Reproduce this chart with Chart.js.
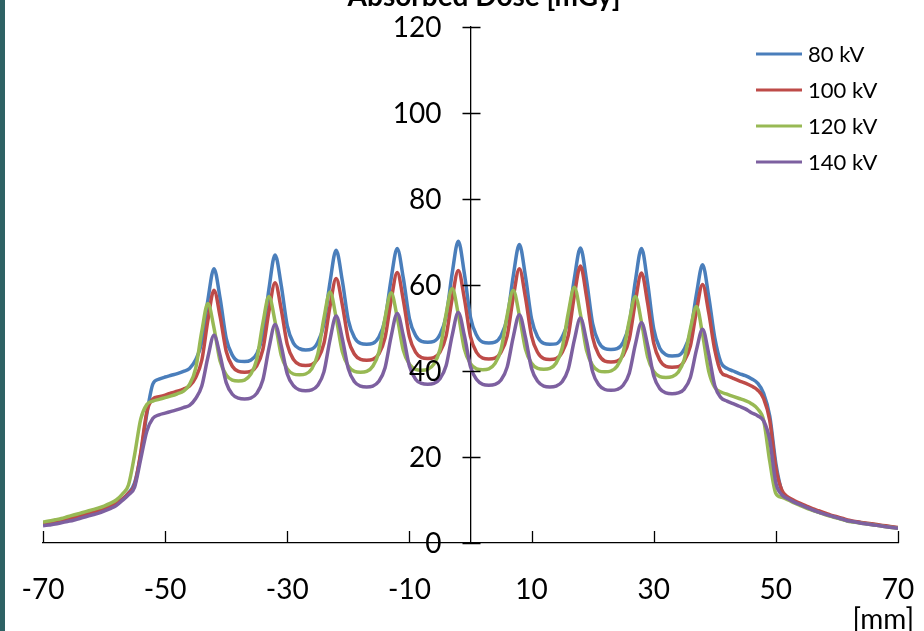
<!DOCTYPE html>
<html>
<head>
<meta charset="utf-8">
<script src="https://cdn.jsdelivr.net/npm/chart.js@4.4.1/dist/chart.umd.min.js"></script>
<style>
  html, body { margin: 0; padding: 0; background: #fff; }
  #wrap { position: relative; width: 924px; height: 631px; overflow: hidden; background: #fff; }
  #edge { position: absolute; left: 0; top: 0; width: 5px; height: 631px; background: #2e6264; }
  canvas { position: absolute; left: 0; top: 0; }
</style>
</head>
<body>
<div id="wrap">
  <canvas id="dose" width="924" height="631"></canvas>
  <div id="edge"></div>
</div>
<script>
// position across the phantom [mm]
const positionsMm = [
  -70, -69, -68, -67, -66, -65, -64, -63, -62, -61,
  -60, -59, -58, -57, -56, -55, -54, -53, -52, -51,
  -50, -49, -48, -47, -46, -45, -44, -43, -42, -41,
  -40, -39, -38, -37, -36, -35, -34, -33, -32, -31,
  -30, -29, -28, -27, -26, -25, -24, -23, -22, -21,
  -20, -19, -18, -17, -16, -15, -14, -13, -12, -11,
  -10, -9, -8, -7, -6, -5, -4, -3, -2, -1,
  0, 1, 2, 3, 4, 5, 6, 7, 8, 9,
  10, 11, 12, 13, 14, 15, 16, 17, 18, 19,
  20, 21, 22, 23, 24, 25, 26, 27, 28, 29,
  30, 31, 32, 33, 34, 35, 36, 37, 38, 39,
  40, 41, 42, 43, 44, 45, 46, 47, 48, 49,
  50, 51, 52, 53, 54, 55, 56, 57, 58, 59,
  60, 61, 62, 63, 64, 65, 66, 67, 68, 69,
  70
];

// absorbed dose [mGy]
const dose80kV = [
  4.5, 4.7, 5.0, 5.3, 5.6, 5.9, 6.2, 6.6, 7.0, 7.4,
  7.9, 8.5, 9.2, 10.2, 11.6, 14.0, 20.5, 30.0, 37.0, 38.1,
  38.6, 39.0, 39.4, 39.9, 40.6, 42.6, 46.7, 56.5, 63.8, 56.9,
  47.6, 43.7, 42.3, 42.2, 42.5, 44.0, 48.5, 59.1, 67.0, 60.0,
  50.5, 46.5, 45.2, 44.9, 45.1, 46.7, 50.9, 60.7, 68.1, 61.1,
  51.8, 47.8, 46.4, 46.2, 46.4, 47.9, 51.9, 61.4, 68.5, 61.6,
  52.2, 48.3, 46.9, 46.7, 46.9, 48.5, 52.7, 62.7, 70.2, 62.6,
  52.5, 48.3, 46.7, 46.5, 46.7, 48.2, 52.3, 62.1, 69.4, 62.0,
  52.1, 47.9, 46.4, 46.2, 46.3, 47.9, 51.9, 61.5, 68.6, 61.1,
  51.0, 46.7, 45.2, 45.0, 45.2, 46.7, 51.0, 61.0, 68.5, 60.5,
  49.8, 45.3, 43.8, 43.5, 43.6, 45.1, 48.9, 57.9, 64.7, 57.4,
  47.7, 42.0, 40.6, 40.0, 39.4, 38.9, 38.2, 37.2, 34.8, 29.5,
  18.5, 12.0, 10.4, 9.6, 8.9, 8.3, 7.7, 7.2, 6.8, 6.3,
  5.9, 5.5, 5.1, 4.9, 4.7, 4.5, 4.3, 4.1, 3.9, 3.7,
  3.5
];
const dose100kV = [
  4.5, 4.7, 5.0, 5.3, 5.6, 5.9, 6.2, 6.6, 7.0, 7.4,
  7.9, 8.5, 9.2, 10.2, 11.6, 13.5, 21.0, 30.5, 33.5, 34.0,
  34.4, 34.9, 35.3, 35.8, 36.5, 38.5, 42.5, 51.8, 58.8, 52.7,
  44.6, 41.1, 39.9, 39.7, 39.9, 41.2, 45.0, 53.9, 60.5, 54.4,
  46.2, 42.7, 41.5, 41.3, 41.5, 42.8, 46.4, 55.1, 61.5, 55.5,
  47.3, 43.9, 42.7, 42.5, 42.7, 44.0, 47.7, 56.4, 62.9, 56.5,
  48.0, 44.4, 43.1, 42.9, 43.1, 44.4, 48.1, 56.9, 63.4, 56.8,
  48.0, 44.3, 43.0, 42.8, 43.0, 44.4, 48.1, 57.1, 63.8, 57.1,
  48.1, 44.3, 42.9, 42.7, 42.9, 44.3, 48.2, 57.5, 64.4, 57.3,
  47.8, 43.8, 42.3, 42.1, 42.3, 43.6, 47.4, 56.2, 62.8, 55.8,
  46.5, 42.5, 41.1, 40.9, 41.0, 42.3, 45.8, 54.0, 60.1, 53.6,
  44.9, 39.8, 38.9, 38.3, 37.7, 37.2, 36.5, 35.6, 33.6, 28.5,
  17.5, 12.2, 10.7, 9.9, 9.2, 8.6, 8.0, 7.5, 7.0, 6.5,
  6.1, 5.7, 5.3, 5.0, 4.8, 4.6, 4.4, 4.2, 4.0, 3.8,
  3.6
];
const dose120kV = [
  4.9, 5.1, 5.4, 5.7, 6.1, 6.5, 6.9, 7.3, 7.7, 8.1,
  8.6, 9.2, 10.0, 11.4, 13.5, 20.5, 28.8, 32.2, 33.0, 33.4,
  33.8, 34.2, 34.7, 35.3, 36.9, 40.6, 49.2, 55.7, 50.0, 42.3,
  39.1, 37.9, 37.7, 37.9, 39.2, 42.7, 51.1, 57.3, 51.5, 43.7,
  40.5, 39.3, 39.1, 39.3, 40.5, 44.0, 52.3, 58.4, 52.4, 44.5,
  41.1, 39.9, 39.7, 39.9, 41.1, 44.4, 52.3, 58.2, 52.5, 44.8,
  41.6, 40.4, 40.2, 40.4, 41.6, 45.0, 53.2, 59.2, 53.2, 45.1,
  41.7, 40.5, 40.3, 40.5, 41.7, 45.0, 52.9, 58.8, 52.9, 45.1,
  41.8, 40.6, 40.4, 40.6, 41.8, 45.3, 53.4, 59.5, 53.2, 44.8,
  41.3, 40.0, 39.8, 40.0, 41.1, 44.3, 51.7, 57.3, 51.3, 43.3,
  39.9, 38.7, 38.5, 38.7, 39.7, 42.7, 49.8, 55.0, 48.5, 40.0,
  36.2, 35.1, 34.6, 34.1, 33.6, 33.1, 32.4, 31.2, 28.5, 19.0,
  11.5, 10.6, 10.0, 9.3, 8.7, 8.1, 7.6, 7.1, 6.6, 6.2,
  5.8, 5.4, 5.0, 4.8, 4.6, 4.4, 4.2, 4.0, 3.8, 3.6,
  3.4
];
const dose140kV = [
  4.0, 4.2, 4.4, 4.7, 5.0, 5.3, 5.7, 6.1, 6.5, 6.9,
  7.4, 8.0, 8.7, 9.9, 11.2, 13.0, 19.5, 26.0, 29.0, 29.8,
  30.2, 30.6, 31.0, 31.5, 32.0, 33.6, 36.5, 43.2, 48.3, 43.6,
  37.3, 34.6, 33.7, 33.5, 33.7, 34.8, 37.9, 45.3, 50.8, 45.9,
  39.3, 36.6, 35.6, 35.4, 35.6, 36.7, 39.8, 47.3, 52.8, 47.6,
  40.5, 37.5, 36.5, 36.3, 36.5, 37.6, 40.7, 48.0, 53.4, 48.2,
  41.1, 38.1, 37.1, 36.9, 37.1, 38.2, 41.2, 48.3, 53.6, 48.2,
  41.0, 38.0, 36.9, 36.7, 36.9, 37.9, 40.9, 47.9, 53.1, 47.8,
  40.6, 37.6, 36.5, 36.3, 36.5, 37.5, 40.4, 47.2, 52.3, 47.0,
  39.8, 36.8, 35.7, 35.5, 35.7, 36.7, 39.5, 46.2, 51.2, 46.0,
  38.9, 35.9, 34.9, 34.7, 34.9, 35.8, 38.5, 44.9, 49.7, 44.0,
  36.6, 33.8, 33.0, 32.4, 31.8, 31.2, 30.3, 29.6, 28.4, 24.0,
  14.0, 11.2, 10.3, 9.5, 8.9, 8.3, 7.7, 7.2, 6.7, 6.3,
  5.9, 5.5, 5.1, 4.9, 4.6, 4.4, 4.2, 4.0, 3.8, 3.6,
  3.4
];

const seriesNames = ['80 kV', '100 kV', '120 kV', '140 kV'];
const seriesColors = ['#4a7ebb', '#be4b48', '#98b954', '#7d60a0'];
const xTickLabels = [-70, -50, -30, -10, 10, 30, 50, 70];
const yTickLabels = [0, 20, 40, 60, 80, 100, 120];
const chartTitle = 'Absorbed Dose [mGy]';
const xUnit = '[mm]';

Chart.defaults.font.family = 'Lato';
Chart.defaults.color = '#000';

function toPoints(values) {
  return positionsMm.map((mm, i) => ({ x: mm, y: values[i] }));
}

const allSeries = [dose80kV, dose100kV, dose120kV, dose140kV];
const datasets = allSeries.map((values, i) => ({
  label: seriesNames[i],
  data: toPoints(values),
  borderColor: seriesColors[i],
  backgroundColor: seriesColors[i],
  borderWidth: 3.5,
  pointRadius: 0,
  cubicInterpolationMode: 'monotone',
  order: allSeries.length - 1 - i   // later series drawn on top
}));

// cross ticks + labels on the y axis, inner ticks on the x axis, title, unit and legend
const decorations = {
  id: 'decorations',
  afterDraw(chart) {
    const { ctx, scales: { x, y } } = chart;
    const x0 = Math.round(x.getPixelForValue(0)) + 0.5;
    const yb = y.getPixelForValue(0);
    ctx.save();
    ctx.strokeStyle = '#000';
    ctx.lineWidth = 1.3;
    ctx.beginPath();
    yTickLabels.forEach(v => {
      const py = Math.round(y.getPixelForValue(v)) + 0.5;
      ctx.moveTo(x0 - 9, py);
      ctx.lineTo(x0 + 9, py);
    });
    xTickLabels.forEach(v => {
      const px = Math.round(x.getPixelForValue(v)) + 0.5;
      ctx.moveTo(px, yb);
      ctx.lineTo(px, yb - 12);
    });
    ctx.stroke();

    ctx.fillStyle = '#000';
    ctx.font = '28px Lato';
    ctx.textAlign = 'right';
    ctx.textBaseline = 'middle';
    yTickLabels.forEach(v => {
      ctx.fillText(String(v), x0 - 30, y.getPixelForValue(v) + 1);
    });

    ctx.fillText(xUnit, x.right + 16, 620);

    ctx.font = 'bold 28px Lato';
    ctx.textAlign = 'center';
    ctx.textBaseline = 'alphabetic';
    ctx.fillText(chartTitle, 484, 6);

    ctx.font = '22px Lato';
    ctx.textAlign = 'left';
    ctx.textBaseline = 'middle';
    chart.data.datasets.forEach((ds, i) => {
      const rowY = 54 + i * 36;
      ctx.strokeStyle = ds.borderColor;
      ctx.lineWidth = 3;
      ctx.beginPath();
      ctx.moveTo(756, rowY);
      ctx.lineTo(802, rowY);
      ctx.stroke();
      ctx.fillText(ds.label, 808, rowY + 1);
    });
    ctx.restore();
  }
};

new Chart(document.getElementById('dose'), {
  type: 'line',
  data: { datasets: datasets },
  options: {
    responsive: false,
    animation: false,
    devicePixelRatio: 1,
    layout: { padding: { left: 43, right: 26, top: 27, bottom: 0 } },
    plugins: {
      legend: { display: false },
      tooltip: { enabled: false }
    },
    scales: {
      x: {
        type: 'linear',
        position: 'bottom',
        min: -70,
        max: 70,
        afterBuildTicks: scale => { scale.ticks = xTickLabels.map(v => ({ value: v })); },
        afterFit: scale => {
          scale.height = 88;
          scale.paddingLeft = 0;
          scale.paddingRight = 0;
        },
        grid: { display: false },
        border: { display: true, color: '#000', width: 1.3 },
        ticks: { font: { size: 28 }, padding: 22, maxRotation: 0, autoSkip: false }
      },
      y: {
        type: 'linear',
        position: { x: 0 },
        min: 0,
        max: 120,
        afterBuildTicks: scale => { scale.ticks = yTickLabels.map(v => ({ value: v })); },
        afterFit: scale => {
          scale.width = 0;
          scale.paddingTop = 0;
          scale.paddingBottom = 0;
        },
        grid: { display: false },
        border: { display: true, color: '#000', width: 1.3 },
        ticks: { display: false }
      }
    }
  },
  plugins: [decorations]
});
</script>
</body>
</html>
